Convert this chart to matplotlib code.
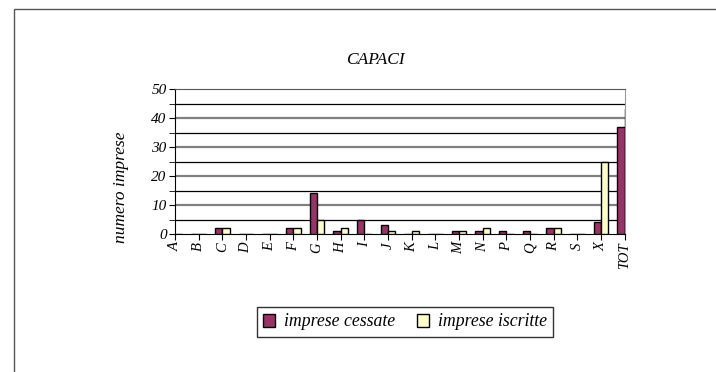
import numpy as np
import matplotlib.pyplot as plt
from matplotlib.patches import Rectangle

categories = ["A", "B", "C", "D", "E", "F", "G", "H", "I", "J", "K", "L",
              "M", "N", "P", "Q", "R", "S", "X", "TOT"]
cessate = [0, 0, 2, 0, 0, 2, 14, 1, 5, 3, 0, 0, 1, 1, 1, 1, 2, 0, 4, 37]
iscritte = [0, 0, 2, 0, 0, 2, 5, 2, 0, 1, 1, 0, 1, 2, 0, 0, 2, 0, 25, 43]

plt.rcParams['font.family'] = ['Liberation Serif', 'DejaVu Serif']
plt.rcParams['font.style'] = 'italic'

fig = plt.figure(figsize=(7.16, 3.72), dpi=100)
# outer frame of the chart area
fig.patches.append(Rectangle((14 / 716, -0.1), 1.2, 1 - 9 / 372 + 0.1,
                             transform=fig.transFigure, fill=False,
                             edgecolor='#555555', linewidth=1.0))

ax = fig.add_axes([175 / 716, 1 - 234 / 372, 450 / 716, 145 / 372])
x = np.arange(len(categories))
w = 0.31
ax.bar(x - w / 2, cessate, w, color='#993366', edgecolor='black',
       linewidth=1.0, label='imprese cessate', zorder=3)
ax.bar(x + w / 2, iscritte, w, color='#FFFFCC', edgecolor='black',
       linewidth=1.0, label='imprese iscritte', zorder=3)

# right end sits on the TOT category centre, so only the edge of the last bar shows
ax.set_xlim(0, len(categories) - 1 + 0.015)
ax.set_ylim(0, 50)
ax.set_yticks(range(0, 51, 10))
ax.set_yticks(range(5, 50, 10), minor=True)
ax.set_xticks(x)
ax.set_xticklabels(categories, rotation=90, fontsize=10.5)
ax.tick_params(axis='y', labelsize=11, length=4, direction='out', pad=2)
ax.tick_params(axis='y', which='minor', length=4)
ax.tick_params(axis='x', length=4, direction='out', pad=2)

for v in range(10, 50, 10):
    ax.axhline(v, color='#808080', linewidth=1.6, zorder=1)
for v in range(5, 50, 10):
    ax.axhline(v, color='black', linewidth=0.9, zorder=1)

ax.spines['left'].set_color('black')
ax.spines['bottom'].set_color('black')
ax.spines['top'].set_color('#555555')
ax.spines['right'].set_color('#999999')

fig.text(121 / 716, 1 - 187 / 372, 'numero imprese', rotation=90,
         ha='center', va='center', fontsize=12.5)
fig.text(375 / 716, 1 - 60 / 372, 'CAPACI', ha='center', va='center',
         fontsize=12.5)

leg = fig.legend(loc='center', bbox_to_anchor=(405 / 716, 1 - 322 / 372),
                 ncol=2, frameon=True, fancybox=False, fontsize=12.8,
                 handlelength=0.7, handleheight=0.7, handletextpad=0.5,
                 columnspacing=1.2, borderpad=0.35)
leg.get_frame().set_edgecolor('black')
leg.get_frame().set_linewidth(1.0)

fig.savefig('out.png', dpi=100)
